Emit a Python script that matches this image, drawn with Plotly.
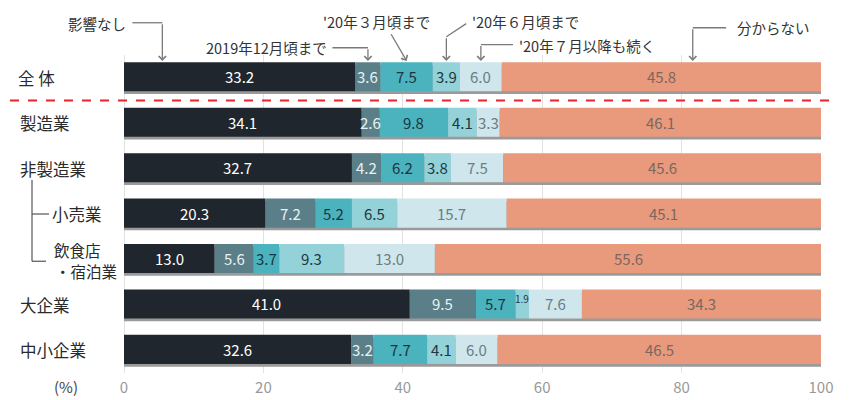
import plotly.graph_objects as go

categories = ["全 体", "製造業", "非製造業", "小売業", "飲食店・宿泊業", "大企業", "中小企業"]
series_names = ["影響なし", "2019年12月頃まで", "'20年３月頃まで", "'20年６月頃まで", "'20年７月以降も続く", "分からない"]
no_effect = [33.2, 34.1, 32.7, 20.3, 13.0, 41.0, 32.6]
until_2019_dec = [3.6, 2.6, 4.2, 7.2, 5.6, 9.5, 3.2]
until_2020_mar = [7.5, 9.8, 6.2, 5.2, 3.7, 5.7, 7.7]
until_2020_jun = [3.9, 4.1, 3.8, 6.5, 9.3, 1.9, 4.1]
after_2020_jul = [6.0, 3.3, 7.5, 15.7, 13.0, 7.6, 6.0]
unknown = [45.8, 46.1, 45.6, 45.1, 55.6, 34.3, 46.5]
x_ticks = [0, 20, 40, 60, 80, 100]

series_values = [no_effect, until_2019_dec, until_2020_mar, until_2020_jun, after_2020_jul, unknown]
colors = ["#1f262d", "#5a7f88", "#4bb3be", "#94d2da", "#cfe6ec", "#e99a7c"]
text_colors = ["#ffffff", "#e8f2f4", "#1d3540", "#24363d", "#6a7c84", "#7a675f"]

# label lines: (text, screen x px, row position, font size)
label_lines = [
    ("全 体", 16, 0.0, 16.5), ("製造業", 18, 1.0, 16.5), ("非製造業", 18, 2.0, 16.5),
    ("小売業", 50, 3.0, 16.5), ("飲食店", 52, 3.79, 15.5), ("・宿泊業", 53, 4.25, 15.5),
    ("大企業", 18, 5.0, 16.5), ("中小企業", 18, 6.0, 16.5),
]

FONT = "Noto Sans CJK JP"
OFF = 8  # page body margin
W, H = 851 - OFF, 400 - OFF
PW, PH = 697, 318
ML, MT = 124 - OFF, 55 - OFF
MR, MB = W - ML - PW, H - MT - PH
n = len(categories)
yr = [n - 0.5, -0.5]


def sx(p):
    """screen pixel x -> paper x"""
    return (p - OFF - ML) / PW


def sy(p):
    """screen pixel y -> paper y"""
    return (MT + PH - (p - OFF)) / PH


def y_to_paper(v):
    return (yr[0] - v) / (yr[0] - yr[1])


fig = go.Figure()

# shadow under each bar
totals = [sum(s[i] for s in series_values) for i in range(n)]
fig.add_trace(go.Bar(
    y=categories, x=totals, base=[0] * n, orientation="h",
    marker=dict(color="#9a9a9a", line=dict(width=0)),
    width=0.64, offset=-0.28, hoverinfo="skip", showlegend=False,
))

annotations = []
bases = [0.0] * n
for name, vals, col, tcol in zip(series_names, series_values, colors, text_colors):
    fig.add_trace(go.Bar(
        y=categories, x=vals, base=list(bases), orientation="h", name=name,
        marker=dict(color=col, line=dict(width=0)),
        width=0.64, offset=-0.34, showlegend=False,
    ))
    for i, (b, v) in enumerate(zip(bases, vals)):
        small = v < 2.5
        annotations.append(dict(
            x=b + v / 2, xref="x", y=i - 0.02 - (0.12 if small else 0), yref="y",
            text=f"{v:.1f}", showarrow=False, xanchor="center", yanchor="middle",
            font=dict(family=FONT, size=10 if small else 15, color=tcol),
        ))
    bases = [b + v for b, v in zip(bases, vals)]

for lab, xp, pos, fs in label_lines:
    annotations.append(dict(
        x=sx(xp), xref="paper", y=pos, yref="y", text=lab,
        showarrow=False, xanchor="left", yanchor="middle", align="left",
        font=dict(family=FONT, size=fs, color="#2a2a2a"),
    ))
annotations.append(dict(
    x=sx(52), xref="paper", y=sy(386), yref="paper", text="(%)",
    showarrow=False, xanchor="left", yanchor="middle",
    font=dict(family=FONT, size=15, color="#444"),
))

# callouts (positions relative to the first row segments)
r0 = [s[0] for s in series_values]
cum0 = [sum(r0[:k]) for k in range(len(r0) + 1)]
mid = [(cum0[k] + cum0[k + 1]) / 2 for k in range(len(r0))]
tip_y = -0.37
LC = "#7a7a7a"
callout_font = dict(family=FONT, size=14.5, color="#333")

tips = [5.5, mid[1], mid[2], mid[3], mid[4], 81.6]
texts = [
    dict(text=series_names[0], x=0.6, py=24, xanchor="right"),
    dict(text=series_names[1], x=29.4, py=47, xanchor="right"),
    dict(text=series_names[2], x=36.2, py=22, xanchor="center"),
    dict(text=series_names[3], x=49.6, py=21, xanchor="left"),
    dict(text=series_names[4], x=56.4, py=45, xanchor="left"),
    dict(text=series_names[5], x=87.6, py=28, xanchor="left"),
]
for t in texts:
    annotations.append(dict(
        x=t["x"], xref="x", y=sy(t["py"]), yref="paper", text=t["text"], showarrow=False,
        xanchor=t["xanchor"], yanchor="middle", font=callout_font,
    ))

# elbow legs: (x start of leg, y of leg start), corner y
legs = [
    (1.2, -1.21),
    (29.9, -0.66),
    None,
    (49.1, -1.19),
    (55.8, -0.73),
    (86.4, -1.10),
]
corner_y = [-1.21, -0.66, None, -0.90, -0.73, -1.10]

shapes = []
for k, leg in enumerate(legs):
    if leg is None:
        continue
    shapes.append(dict(
        type="line", xref="x", yref="paper",
        x0=leg[0], x1=tips[k], y0=y_to_paper(leg[1]), y1=y_to_paper(corner_y[k]),
        line=dict(color=LC, width=1.3),
    ))
    annotations.append(dict(
        x=tips[k], y=tip_y, xref="x", yref="y", ax=tips[k], ay=corner_y[k],
        axref="x", ayref="y", text="", showarrow=True, arrowhead=4,
        arrowsize=1.1, arrowwidth=1.3, arrowcolor=LC, standoff=0,
    ))
# diagonal arrow for '20年3月
annotations.append(dict(
    x=tips[2], y=tip_y, xref="x", yref="y", ax=38.2, ay=-0.99,
    axref="x", ayref="y", text="", showarrow=True, arrowhead=4,
    arrowsize=1.1, arrowwidth=1.3, arrowcolor=LC, standoff=0,
))

# red dashed separator
shapes.append(dict(
    type="line", xref="paper", yref="y", x0=sx(10), x1=sx(836),
    y0=0.5, y1=0.5, line=dict(color="#e8232b", width=2, dash="dash"),
))
# bracket for sub-industries
bx = sx(32)
shapes.append(dict(type="line", xref="paper", yref="y", x0=bx, x1=bx, y0=2.25, y1=4.04,
                   line=dict(color="#555", width=1.2)))
shapes.append(dict(type="line", xref="paper", yref="y", x0=bx, x1=sx(49), y0=3.0, y1=3.0,
                   line=dict(color="#555", width=1.2)))
shapes.append(dict(type="line", xref="paper", yref="y", x0=bx, x1=sx(46), y0=4.04, y1=4.04,
                   line=dict(color="#555", width=1.2)))

fig.update_layout(
    width=W, height=H,
    margin=dict(l=ML, r=MR, t=MT, b=MB, autoexpand=False),
    paper_bgcolor="white", plot_bgcolor="white",
    barmode="overlay", showlegend=False,
    annotations=annotations, shapes=shapes,
    xaxis=dict(range=[0, 100], tickvals=x_ticks, ticktext=[str(v) for v in x_ticks],
               showgrid=True, gridcolor="#e2e2e2", gridwidth=1, zeroline=True,
               zerolinecolor="#e2e2e2", zerolinewidth=1, showline=False,
               tickfont=dict(family=FONT, size=15, color="#999999"), ticks="",
               ticklabelstandoff=4, automargin=False),
    yaxis=dict(type="category", categoryorder="array", categoryarray=categories,
               range=yr, showticklabels=False, showgrid=False, zeroline=False,
               automargin=False),
)

fig.write_html("out.html")
